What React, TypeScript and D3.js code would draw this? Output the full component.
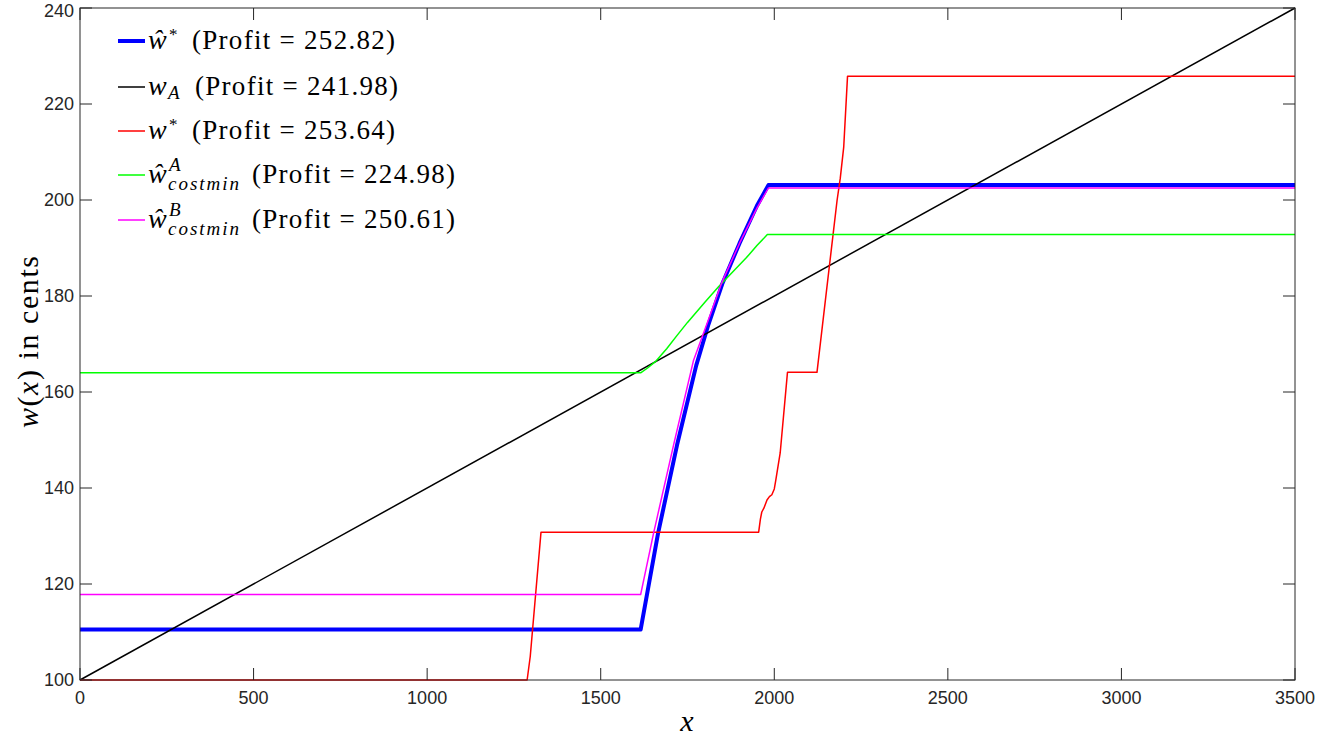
import React, { useEffect, useRef } from 'react';
import * as d3 from 'd3';

// chart size (matches the browser window)
const WIDTH = 1343;
const HEIGHT = 740;

// axis ticks
const xTickValues = [0, 500, 1000, 1500, 2000, 2500, 3000, 3500];
const yTickValues = [100, 120, 140, 160, 180, 200, 220, 240];

// series
const wHatStarX = [0, 1615, 1665, 1720, 1775, 1810, 1850, 1900, 1950, 1983, 3500];
const wHatStarY = [110.5, 110.5, 130.5, 149, 165.5, 174, 182.5, 191, 198.8, 203.1, 203.1];

const wAX = [0, 3500];
const wAY = [100, 240];

const wStarX = [0, 1288, 1297, 1328, 1955, 1960, 1964, 1970, 1979, 1986, 1993, 2000, 2004, 2017, 2038, 2123, 2147, 2181, 2190, 2200, 2211, 3500];
const wStarY = [100, 100, 104.9, 130.8, 130.8, 133.5, 135, 135.8, 137.5, 138.2, 138.6, 139.8, 141.5, 147.3, 164.1, 164.1, 179, 200, 204.5, 211, 225.8, 225.8];

const wCostAX = [0, 1615, 1635, 1660, 1690, 1720, 1750, 1800, 1840, 1880, 1920, 1950, 1980, 3500];
const wCostAY = [164, 164, 165, 166.5, 169, 171.8, 174.5, 178.7, 182, 185, 188, 190.5, 192.8, 192.8];

const wCostBX = [0, 1615, 1652, 1710, 1767, 1810, 1850, 1900, 1950, 1983, 3500];
const wCostBY = [117.8, 117.8, 130.5, 149, 166.5, 175, 183, 191, 198.3, 202.5, 202.5];

const profits = ['252.82', '241.98', '253.64', '224.98', '250.61'];

type Series = {
  xs: number[];
  ys: number[];
  color: string;
  width: number;
  base: string;   // main symbol
  sup?: string;   // superscript
  sub?: string;   // subscript
  profit: string;
};

const series: Series[] = [
  { xs: wHatStarX, ys: wHatStarY, color: '#0000ff', width: 4, base: 'ŵ', sup: '*', profit: profits[0] },
  { xs: wAX, ys: wAY, color: '#000000', width: 1.5, base: 'w', sub: 'A', profit: profits[1] },
  { xs: wStarX, ys: wStarY, color: '#ff0000', width: 1.5, base: 'w', sup: '*', profit: profits[2] },
  { xs: wCostAX, ys: wCostAY, color: '#00ff00', width: 1.5, base: 'ŵ', sup: 'A', sub: 'costmin', profit: profits[3] },
  { xs: wCostBX, ys: wCostBY, color: '#ff00ff', width: 1.5, base: 'ŵ', sup: 'B', sub: 'costmin', profit: profits[4] },
];

const App = () => {
  const svgRef = useRef<SVGSVGElement>(null);

  useEffect(() => {
    if (!svgRef.current) return;
    const svg = d3.select(svgRef.current);
    svg.selectAll('*').remove();

    const left = 80, right = 1295, top = 8, bottom = 680;
    const tickLen = 12;
    const axisColor = '#262626';
    const serif = '"Liberation Serif", "Times New Roman", serif';
    const sans = '"Liberation Sans", Arial, sans-serif';

    const x = d3.scaleLinear().domain([0, 3500]).range([left, right]);
    const y = d3.scaleLinear().domain([100, 240]).range([bottom, top]);

    svg.append('rect')
      .attr('width', WIDTH)
      .attr('height', HEIGHT)
      .attr('fill', '#ffffff');

    // data lines
    const line = d3.line<[number, number]>()
      .x(d => x(d[0]))
      .y(d => y(d[1]));

    series.forEach(s => {
      const pts: [number, number][] = s.xs.map((v, i) => [v, s.ys[i]]);
      svg.append('path')
        .datum(pts)
        .attr('d', line)
        .attr('fill', 'none')
        .attr('stroke', s.color)
        .attr('stroke-width', s.width)
        .attr('stroke-linejoin', 'round');
    });

    // box
    svg.append('rect')
      .attr('x', left)
      .attr('y', top)
      .attr('width', right - left)
      .attr('height', bottom - top)
      .attr('fill', 'none')
      .attr('stroke', axisColor)
      .attr('stroke-width', 1);

    // x ticks (bottom and top, pointing inward)
    xTickValues.forEach(v => {
      const px = x(v);
      svg.append('line')
        .attr('x1', px).attr('x2', px)
        .attr('y1', bottom).attr('y2', bottom - tickLen)
        .attr('stroke', axisColor);
      svg.append('line')
        .attr('x1', px).attr('x2', px)
        .attr('y1', top).attr('y2', top + tickLen)
        .attr('stroke', axisColor);
      svg.append('text')
        .attr('x', px)
        .attr('y', 698)
        .attr('text-anchor', 'middle')
        .attr('dominant-baseline', 'central')
        .attr('font-family', sans)
        .attr('font-size', 18)
        .attr('fill', axisColor)
        .text(v);
    });

    // y ticks (left and right, pointing inward)
    yTickValues.forEach(v => {
      const py = y(v);
      svg.append('line')
        .attr('x1', left).attr('x2', left + tickLen)
        .attr('y1', py).attr('y2', py)
        .attr('stroke', axisColor);
      svg.append('line')
        .attr('x1', right).attr('x2', right - tickLen)
        .attr('y1', py).attr('y2', py)
        .attr('stroke', axisColor);
      svg.append('text')
        .attr('x', 74)
        .attr('y', Math.max(py, 11))
        .attr('text-anchor', 'end')
        .attr('dominant-baseline', 'central')
        .attr('font-family', sans)
        .attr('font-size', 18)
        .attr('fill', axisColor)
        .text(v);
    });

    // axis labels
    svg.append('text')
      .attr('x', 687)
      .attr('y', 731)
      .attr('text-anchor', 'middle')
      .attr('font-family', serif)
      .attr('font-style', 'italic')
      .attr('font-size', 30)
      .attr('fill', '#000')
      .text('x');

    const yLabel = svg.append('text')
      .attr('transform', 'translate(38,342) rotate(-90)')
      .attr('text-anchor', 'middle')
      .attr('font-family', serif)
      .attr('font-size', 30)
      .attr('fill', '#000')
      .attr('textLength', 172)
      .attr('lengthAdjust', 'spacing');
    yLabel.append('tspan').attr('font-style', 'italic').text('w');
    yLabel.append('tspan').text('(');
    yLabel.append('tspan').attr('font-style', 'italic').text('x');
    yLabel.append('tspan').text(') in cents');

    // legend
    const legendRowY = [41, 87, 131, 175, 220];
    series.forEach((s, i) => {
      const ly = legendRowY[i];
      svg.append('line')
        .attr('x1', 118).attr('x2', 145)
        .attr('y1', ly).attr('y2', ly)
        .attr('stroke', s.color)
        .attr('stroke-width', s.width);

      const base = ly + 7.5;
      svg.append('text')
        .attr('x', 148)
        .attr('y', base)
        .attr('font-family', serif)
        .attr('font-style', 'italic')
        .attr('font-size', 28)
        .attr('fill', '#000')
        .text(s.base);

      if (s.sup) {
        svg.append('text')
          .attr('x', 169)
          .attr('y', base - (s.sub ? 12 : 9))
          .attr('font-family', serif)
          .attr('font-style', s.sup === '*' ? 'normal' : 'italic')
          .attr('font-size', s.sup === '*' ? 17 : 19)
          .attr('fill', '#000')
          .text(s.sup);
      }
      if (s.sub) {
        svg.append('text')
          .attr('x', 168)
          .attr('y', base + (s.sup ? 7 : 4))
          .attr('font-family', serif)
          .attr('font-style', 'italic')
          .attr('font-size', 19)
          .attr('fill', '#000')
          .attr('textLength', s.sub.length > 1 ? 71 : null)
          .attr('lengthAdjust', 'spacing')
          .text(s.sub);
      }

      const textX = s.sub && s.sub.length > 1 ? 252 : s.sub ? 195 : 192;
      svg.append('text')
        .attr('x', textX)
        .attr('y', base)
        .attr('font-family', serif)
        .attr('font-size', 27)
        .attr('fill', '#000')
        .attr('textLength', 203)
        .attr('lengthAdjust', 'spacing')
        .text(`(Profit = ${s.profit})`);
    });
  }, []);

  return (
    <svg
      ref={svgRef}
      width={WIDTH}
      height={HEIGHT}
      style={{ position: 'absolute', left: 0, top: 0, display: 'block' }}
    />
  );
};

export default App;
